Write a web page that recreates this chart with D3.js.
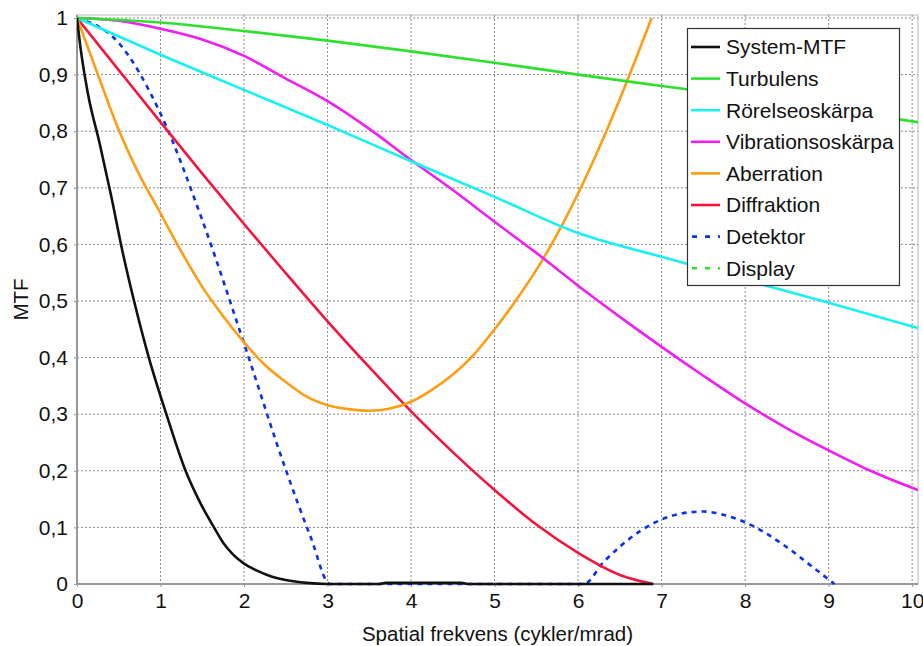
<!DOCTYPE html>
<html><head><meta charset="utf-8">
<script src="https://cdn.jsdelivr.net/npm/d3@7"></script>
<style>
html,body{margin:0;padding:0;background:#fff;}
svg{display:block;font-family:"Liberation Sans",Arial,sans-serif;}
</style></head>
<body><svg id="c" width="923" height="646"></svg>
<script>
// ---- data ----
const xTicks = [0,1,2,3,4,5,6,7,8,9,10];
const yTicks = [0,0.1,0.2,0.3,0.4,0.5,0.6,0.7,0.8,0.9,1];
const seriesNames = ["System-MTF","Turbulens","Rörelseoskärpa","Vibrationsoskärpa","Aberration","Diffraktion","Detektor","Display"];

const systemX = [0,0.04,0.13,0.27,0.41,0.55,0.69,0.86,1.07,1.3,1.47,1.64,1.75,1.87,2,2.15,2.31,2.5,2.75,3,3.6,3.7,4.6,4.7,6.9];
const systemY = [1,0.95,0.867,0.779,0.685,0.584,0.496,0.4,0.3,0.2,0.145,0.1,0.073,0.052,0.036,0.024,0.014,0.007,0.002,0,0,0.002,0.002,0,0];

const turbX = [0,1,2,3,4,5,6,7,8,9,10.07];
const turbY = [1,0.992,0.977,0.96,0.941,0.921,0.9,0.88,0.86,0.839,0.816];

const motionX = [0,1,2,3,4,5,6,7,8,9,10.07];
const motionY = [1,0.935,0.873,0.811,0.747,0.684,0.62,0.578,0.537,0.497,0.452];

const vibX = [0,0.5,1,1.5,2,2.5,3,3.5,4,4.5,5,5.5,6,6.5,7,7.5,8,8.5,9,9.5,10.07];
const vibY = [1,0.995,0.981,0.962,0.933,0.893,0.853,0.804,0.749,0.696,0.64,0.585,0.527,0.472,0.419,0.368,0.319,0.275,0.236,0.2,0.166];

const aberX = [0,0.25,0.5,0.75,1,1.25,1.5,1.75,2,2.25,2.5,2.75,3,3.25,3.5,3.75,4,4.25,4.5,4.75,5,5.25,5.5,5.75,6,6.25,6.5,6.75,6.88];
const aberY = [1,0.9,0.802,0.722,0.655,0.587,0.525,0.473,0.427,0.387,0.357,0.331,0.316,0.309,0.306,0.31,0.322,0.343,0.37,0.405,0.45,0.5,0.555,0.618,0.69,0.77,0.857,0.95,1];

const diffX = [0,0.5,1,1.5,2,2.5,3,3.5,4,4.5,5,5.5,6,6.5,6.9];
const diffY = [1,0.908,0.816,0.725,0.636,0.549,0.464,0.383,0.305,0.233,0.166,0.105,0.055,0.016,0];

const detX = [0,0.5,1,1.5,2,2.5,2.8,3.03,4,5,6.07,6.3,6.5,7,7.25,7.5,7.75,8,8.5,8.8,9.07];
const detY = [1,0.956,0.831,0.643,0.425,0.202,0.082,0,0,0,0,0.038,0.066,0.114,0.125,0.128,0.122,0.109,0.065,0.031,0];

const displayX = [];
const displayY = [];

const colors = ["#111111","#2ee02e","#19f0f0","#f01ef0","#ff9d12","#f5153c","#0a32e6","#2ee02e"];
const dashed = [false,false,false,false,false,false,true,true];

const seriesX = [systemX,turbX,motionX,vibX,aberX,diffX,detX,displayX];
const seriesY = [systemY,turbY,motionY,vibY,aberY,diffY,detY,displayY];

// ---- layout ----
const svg = d3.select("#c");
const L = 77, R = 918, T = 15, B = 584;
const x = d3.scaleLinear().domain([0,10.07]).range([L,R]);
const y = d3.scaleLinear().domain([0,1]).range([B,18]);
const fmt = d => d===0 ? "0" : d===1 ? "1" : d3.format(".1f")(d).replace(".",",");
const FONT = "Liberation Sans, Arial, sans-serif";

// frame
svg.append("rect").attr("x",L).attr("y",T).attr("width",R-L).attr("height",B-T)
  .attr("fill","#fff").attr("stroke","#dcdcdc").attr("stroke-width",2);

// grid
const g = svg.append("g");
g.selectAll(".gx").data(xTicks).join("line")
  .attr("x1",d=>x(d)).attr("x2",d=>x(d)).attr("y1",T).attr("y2",B)
  .attr("stroke","#8a8a8a").attr("stroke-width",1).attr("stroke-dasharray","2,2");
g.selectAll(".gy").data(yTicks).join("line")
  .attr("x1",L).attr("x2",R).attr("y1",d=>y(d)).attr("y2",d=>y(d))
  .attr("stroke","#8a8a8a").attr("stroke-width",1).attr("stroke-dasharray","2,2");

// axes
const xAxis = d3.axisBottom(x).tickValues(xTicks).tickFormat(d3.format("d")).tickSize(3).tickPadding(6);
const yAxis = d3.axisLeft(y).tickValues(yTicks).tickFormat(fmt).tickSize(3).tickPadding(6);
const gx = svg.append("g").attr("transform",`translate(0,${B})`).call(xAxis);
const gy = svg.append("g").attr("transform",`translate(${L},0)`).call(yAxis);
[gx,gy].forEach(a=>{
  a.select(".domain").attr("stroke","#999").attr("stroke-width",2);
  a.selectAll(".tick line").attr("stroke","#999");
  a.selectAll("text").attr("font-size",21).attr("fill","#111").attr("font-family",FONT);
});
gy.select(".domain").attr("d",`M0,${B}V${T}`);
gx.select(".domain").attr("d",`M${L},0H${R}`);

// clip
svg.append("clipPath").attr("id","clip").append("rect")
  .attr("x",L).attr("y",T-2).attr("width",R-L).attr("height",B-T+4);

const line = d3.line().x(d=>x(d[0])).y(d=>y(d[1])).curve(d3.curveMonotoneX);
const lines = svg.append("g").attr("clip-path","url(#clip)");
const order = [7,6,5,4,3,2,1,0];
order.forEach(i=>{
  const pts = seriesX[i].map((v,k)=>[v,seriesY[i][k]]);
  if(!pts.length) return;
  lines.append("path").attr("d",line(pts)).attr("fill","none")
    .attr("stroke",colors[i]).attr("stroke-width",2.6)
    .attr("stroke-dasharray",dashed[i] ? "5,5" : null);
});

// legend
const lg = svg.append("g");
lg.append("rect").attr("x",687.5).attr("y",28.5).attr("width",212).attr("height",257)
  .attr("fill","#fff").attr("stroke","#333").attr("stroke-width",1.2);
seriesNames.forEach((n,i)=>{
  const cy = 47 + i*31.6;
  lg.append("line").attr("x1",691).attr("x2",720).attr("y1",cy).attr("y2",cy)
    .attr("stroke",colors[i]).attr("stroke-width",2.6)
    .attr("stroke-dasharray",dashed[i] ? "5,8" : null)
    .attr("stroke-dashoffset",dashed[i] ? -1 : 0);
  lg.append("text").attr("x",726).attr("y",cy).attr("dy","0.35em")
    .attr("font-size",21).attr("fill","#111").text(n);
});

// titles
svg.append("text").attr("x",(L+R)/2).attr("y",641).attr("text-anchor","middle")
  .attr("font-size",20.5).attr("fill","#111").text("Spatial frekvens (cykler/mrad)");
svg.append("text").attr("transform",`translate(28,${(T+B)/2}) rotate(-90)`)
  .attr("text-anchor","middle").attr("font-size",20.5).attr("fill","#111").text("MTF");
</script></body></html>
